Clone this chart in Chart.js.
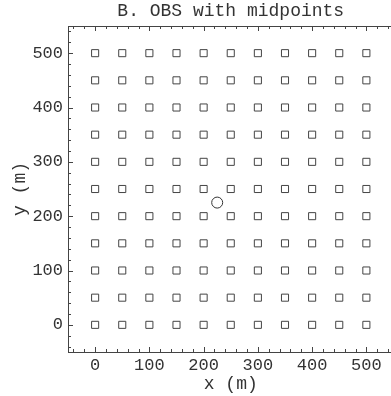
<!DOCTYPE html>
<html>
<head>
<meta charset="utf-8">
<title>OBS with midpoints</title>
<script src="https://cdn.jsdelivr.net/npm/chart.js@4"></script>
<style>
    html, body { margin: 0; padding: 0; background: #fff; overflow: hidden; }
    #wrap { position: absolute; left: 0; top: 0; width: 400px; height: 396px; }
</style>
</head>
<body>
<div id="wrap"><canvas id="chart" width="400" height="396"></canvas></div>
<script>
// ─── Data ────────────────────────────────────────────────────────────────────
// OBS stations on a 50 m grid, plus the single midpoint marker
const gridX = [0, 50, 100, 150, 200, 250, 300, 350, 400, 450, 500];
const gridY = [0, 50, 100, 150, 200, 250, 300, 350, 400, 450, 500];
const midX  = [225];
const midY  = [225];

const xTicks = [0, 100, 200, 300, 400, 500];
const yTicks = [0, 100, 200, 300, 400, 500];

const INK  = '#333';
const MONO = '"Liberation Mono", "DejaVu Sans Mono", monospace';

const stations = [];
gridY.forEach(y => gridX.forEach(x => stations.push({ x, y })));
const midpoints = midX.map((x, i) => ({ x, y: midY[i] }));

// ─── Frame with inward ticks (major every 100, minor every 20) ───────────────
const frameTicks = {
    id: 'frameTicks',
    afterDatasetsDraw(chart) {
        const { ctx, chartArea: a, scales: { x, y } } = chart;
        ctx.save();
        ctx.strokeStyle = '#444';
        ctx.lineWidth = 1;
        ctx.strokeRect(a.left + 0.5, a.top + 0.5, a.right - a.left, a.bottom - a.top);

        ctx.beginPath();
        for (let v = -40; v <= 540; v += 20) {
            const len = v % 100 === 0 ? 5 : 3;
            const px = Math.round(x.getPixelForValue(v)) + 0.5;
            ctx.moveTo(px, a.bottom); ctx.lineTo(px, a.bottom - len);
            ctx.moveTo(px, a.top);    ctx.lineTo(px, a.top + len);
            const py = Math.round(y.getPixelForValue(v)) + 0.5;
            ctx.moveTo(a.left, py);   ctx.lineTo(a.left + len, py);
        }
        ctx.stroke();
        ctx.restore();
    }
};

// ─── Chart ───────────────────────────────────────────────────────────────────
new Chart(document.getElementById('chart'), {
    type: 'scatter',
    data: {
        datasets: [
            {
                label: 'OBS',
                data: stations,
                pointStyle: 'rect',
                pointRadius: 5,
                pointBorderWidth: 1,
                pointBorderColor: '#444',
                pointBackgroundColor: '#fff'
            },
            {
                label: 'midpoints',
                data: midpoints,
                pointStyle: 'circle',
                pointRadius: 5.5,
                pointBorderWidth: 1,
                pointBorderColor: '#333',
                pointBackgroundColor: '#fff'
            }
        ]
    },
    options: {
        responsive: false,
        animation: false,
        layout: { padding: { left: 0, right: 5, top: 0, bottom: 0 } },
        plugins: {
            legend: { display: false },
            tooltip: { enabled: false },
            title: {
                display: true,
                text: 'B. OBS with midpoints',
                fullSize: false,
                color: INK,
                font: { family: MONO, size: 18, weight: 'normal', lineHeight: 1 },
                padding: { top: 2, bottom: 6 }
            }
        },
        scales: {
            x: {
                type: 'linear',
                min: -50,
                max: 550,
                grid: { display: false, drawTicks: false },
                border: { display: false },
                afterBuildTicks: s => { s.ticks = xTicks.map(v => ({ value: v })); },
                afterFit: s => { s.height = 44; },
                ticks: {
                    color: INK,
                    padding: 3,
                    maxRotation: 0,
                    font: { family: MONO, size: 17 }
                },
                title: {
                    display: true,
                    text: 'x (m)',
                    color: INK,
                    font: { family: MONO, size: 18 },
                    padding: { top: 0, bottom: 1 }
                }
            },
            y: {
                type: 'linear',
                min: -50,
                max: 550,
                grid: { display: false, drawTicks: false },
                border: { display: false },
                afterBuildTicks: s => { s.ticks = yTicks.map(v => ({ value: v })); },
                afterFit: s => { s.width = 68; },
                ticks: {
                    color: INK,
                    padding: 5,
                    font: { family: MONO, size: 17 }
                },
                title: {
                    display: true,
                    text: 'y (m)',
                    color: INK,
                    font: { family: MONO, size: 18 },
                    padding: { top: 9, bottom: 0 }
                }
            }
        }
    },
    plugins: [frameTicks]
});
</script>
</body>
</html>
